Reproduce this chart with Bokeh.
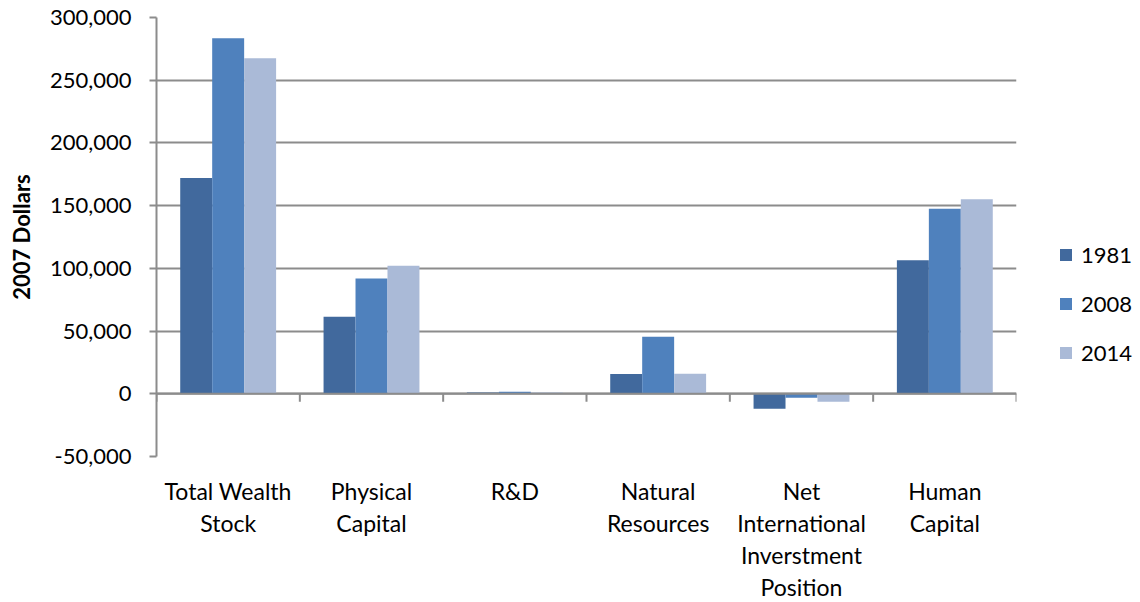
from bokeh.plotting import figure
from bokeh.models import Range1d, FixedTicker, NumeralTickFormatter, Legend, LegendItem, Span
from bokeh.embed import file_html
from bokeh.resources import INLINE

categories = ["Total Wealth\nStock", "Physical\nCapital", "R&D", "Natural\nResources",
              "Net\nInternational\nInverstment\nPosition", "Human\nCapital"]
years = ["1981", "2008", "2014"]
v1981 = [172000, 61500, 1000, 15800, -11900, 106500]
v2008 = [283500, 92000, 1600, 45500, -3200, 147500]
v2014 = [267500, 102000, 1100, 16000, -6400, 155000]
series = [v1981, v2008, v2014]
colors = ["#41699D", "#4F81BD", "#AABAD7"]
y_ticks = [-50000, 0, 50000, 100000, 150000, 200000, 250000, 300000]

FONT = "Lato"
GRID = "#8c8c8c"

frame_w, frame_h = 860, 439
p = figure(frame_width=frame_w, frame_height=frame_h,
           min_border_left=156, min_border_right=124, min_border_top=17, min_border_bottom=146,
           x_range=Range1d(-0.5, len(categories) - 0.5),
           y_range=Range1d(y_ticks[0], y_ticks[-1]),
           output_backend="svg", toolbar_location=None)
p.outline_line_color = None
p.background_fill_color = "white"
p.border_fill_color = "white"

bw = 0.223
offsets = [-bw, 0, bw]
idx = list(range(len(categories)))
renderers = []
for vals, col, off in zip(series, colors, offsets):
    r = p.vbar(x=[i + off for i in idx], width=bw, top=vals, bottom=0,
               fill_color=col, line_color=None)
    renderers.append(r)

# zero line with category separators
p.add_layout(Span(location=0, dimension="width", line_color=GRID, line_width=2))
px_per_unit = frame_h / (y_ticks[-1] - y_ticks[0])
tick_len = 8 / px_per_unit
bounds = [i - 0.5 for i in range(len(categories) + 1)]
p.segment(x0=bounds, x1=bounds, y0=[0] * len(bounds), y1=[-tick_len] * len(bounds),
          line_color=GRID, line_width=2)

# y axis
yax = p.yaxis[0]
yax.ticker = FixedTicker(ticks=y_ticks)
yax.formatter = NumeralTickFormatter(format="0,0")
yax.axis_line_color = GRID
yax.axis_line_width = 2
yax.major_tick_line_color = GRID
yax.major_tick_line_width = 2
yax.major_tick_out = 7
yax.major_tick_in = 0
yax.minor_tick_line_color = None
yax.major_label_text_font = FONT
yax.major_label_text_font_size = "22px"
yax.major_label_text_color = "black"
yax.major_label_standoff = 18
yax.axis_label = "2007 Dollars"
yax.axis_label_text_font = FONT
yax.axis_label_text_font_size = "22px"
yax.axis_label_text_font_style = "bold"
yax.axis_label_text_color = "black"
yax.axis_label_standoff = 12

# x axis
xax = p.xaxis[0]
xax.ticker = FixedTicker(ticks=idx)
xax.major_label_overrides = {i: c for i, c in zip(idx, categories)}
xax.axis_line_color = None
xax.major_tick_line_color = None
xax.minor_tick_line_color = None
xax.major_label_text_font = FONT
xax.major_label_text_font_size = "23px"
xax.major_label_text_color = "black"
xax.major_label_text_line_height = 1.15
xax.major_label_standoff = 14

p.xgrid.grid_line_color = None
p.ygrid.ticker = FixedTicker(ticks=y_ticks)
p.ygrid.grid_line_color = GRID
p.ygrid.grid_line_width = 2

legend = Legend(items=[LegendItem(label=y, renderers=[r]) for y, r in zip(years, renderers)],
                location=(42, 90), orientation="vertical",
                glyph_width=15, glyph_height=15, label_standoff=8,
                label_text_font=FONT, label_text_font_size="22px", label_height=26,
                label_text_color="black",
                spacing=22, padding=0, margin=0,
                border_line_color=None, background_fill_alpha=0)
p.add_layout(legend, "right")

open("out.html", "w").write(file_html(p, INLINE))
